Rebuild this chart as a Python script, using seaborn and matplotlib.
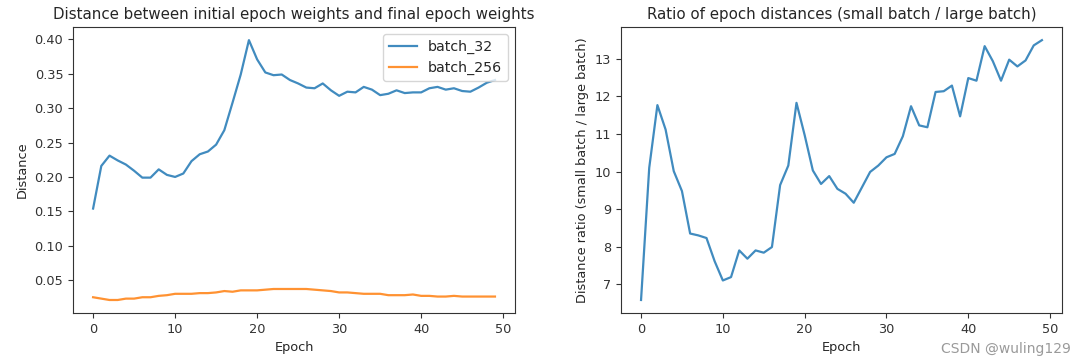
"""Recreate: epoch-distance comparison (batch_32 vs batch_256) and their ratio."""

import numpy as np
import pandas as pd
import matplotlib
matplotlib.use("Agg")
import matplotlib.pyplot as plt
import seaborn as sns

# ─── Data ─────────────────────────────────────────────────────────────────

epochs = list(range(50))

batch_32 = [
    0.154, 0.216, 0.231, 0.224, 0.218, 0.209, 0.199, 0.199, 0.211, 0.203,
    0.200, 0.205, 0.223, 0.233, 0.237, 0.247, 0.268, 0.308, 0.349, 0.399,
    0.371, 0.352, 0.348, 0.349, 0.341, 0.336, 0.330, 0.329, 0.336, 0.326,
    0.318, 0.324, 0.323, 0.331, 0.327, 0.319, 0.321, 0.326, 0.322, 0.323,
    0.323, 0.329, 0.331, 0.327, 0.329, 0.325, 0.324, 0.330, 0.337, 0.341,
]

batch_256 = [
    0.025, 0.023, 0.021, 0.021, 0.023, 0.023, 0.025, 0.025, 0.027, 0.028,
    0.030, 0.030, 0.030, 0.031, 0.031, 0.032, 0.034, 0.033, 0.035, 0.035,
    0.035, 0.036, 0.037, 0.037, 0.037, 0.037, 0.037, 0.036, 0.035, 0.034,
    0.032, 0.032, 0.031, 0.030, 0.030, 0.030, 0.028, 0.028, 0.028, 0.029,
    0.027, 0.027, 0.026, 0.026, 0.027, 0.026, 0.026, 0.026, 0.026, 0.026,
]

ratio = [
    6.58, 10.10, 11.77, 11.12, 10.01, 9.48, 8.35, 8.30, 8.23, 7.61,
    7.10, 7.19, 7.90, 7.68, 7.90, 7.84, 7.99, 9.64, 10.16, 11.83,
    10.97, 10.03, 9.67, 9.88, 9.54, 9.41, 9.17, 9.58, 9.99, 10.16,
    10.38, 10.47, 10.94, 11.74, 11.23, 11.18, 12.12, 12.14, 12.29, 11.47,
    12.49, 12.42, 13.34, 12.94, 12.42, 12.98, 12.80, 12.96, 13.36, 13.50,
]

SERIES = ["batch_32", "batch_256"]

# ─── Style ────────────────────────────────────────────────────────────────

plt.rcParams.update({
    "font.family": ["DejaVu Sans"],
    "axes.titlesize": 10.8,
    "axes.labelsize": 9.3,
    "xtick.labelsize": 9.3,
    "ytick.labelsize": 9.3,
    "legend.fontsize": 10.2,
    "text.color": "#262626",
    "axes.labelcolor": "#262626",
    "xtick.color": "#333333",
    "ytick.color": "#333333",
    "axes.edgecolor": "#333333",
})

dist_df = pd.DataFrame({"Epoch": epochs * 2,
                        "Distance": batch_32 + batch_256,
                        "series": ["batch_32"] * 50 + ["batch_256"] * 50})
ratio_df = pd.DataFrame({"Epoch": epochs, "ratio": ratio})

fig = plt.figure(figsize=(10.8, 3.62), dpi=100)
ax1 = fig.add_axes([0.0676, 0.1354, 0.4093, 0.7896])
ax2 = fig.add_axes([0.575, 0.1354, 0.4083, 0.7896])

# ─── Left: distances ──────────────────────────────────────────────────────

sns.lineplot(data=dist_df, x="Epoch", y="Distance", hue="series",
             hue_order=SERIES, palette=["#1f77b4", "#ff7f0e"],
             linewidth=1.6, alpha=0.85, ax=ax1)
ax1.set_title("Distance between initial epoch weights and final epoch weights")
ax1.set_xlabel("Epoch")
ax1.set_ylabel("Distance")
ax1.set_xticks([0, 10, 20, 30, 40, 50])
ax1.legend(loc="upper right", title=None)

# ─── Right: ratio ─────────────────────────────────────────────────────────

sns.lineplot(data=ratio_df, x="Epoch", y="ratio", color="#1f77b4",
             linewidth=1.6, alpha=0.85, ax=ax2)
ax2.set_title("Ratio of epoch distances (small batch / large batch)")
ax2.set_xlabel("Epoch")
ax2.set_ylabel("Distance ratio (small batch / large batch)")
ax2.set_xticks([0, 10, 20, 30, 40, 50])

fig.text(0.992, 0.035, "CSDN @wuling129", ha="right", va="center",
         fontsize=10, color="#9a9a9a")

fig.savefig("out.png", dpi=100)
plt.close(fig)
